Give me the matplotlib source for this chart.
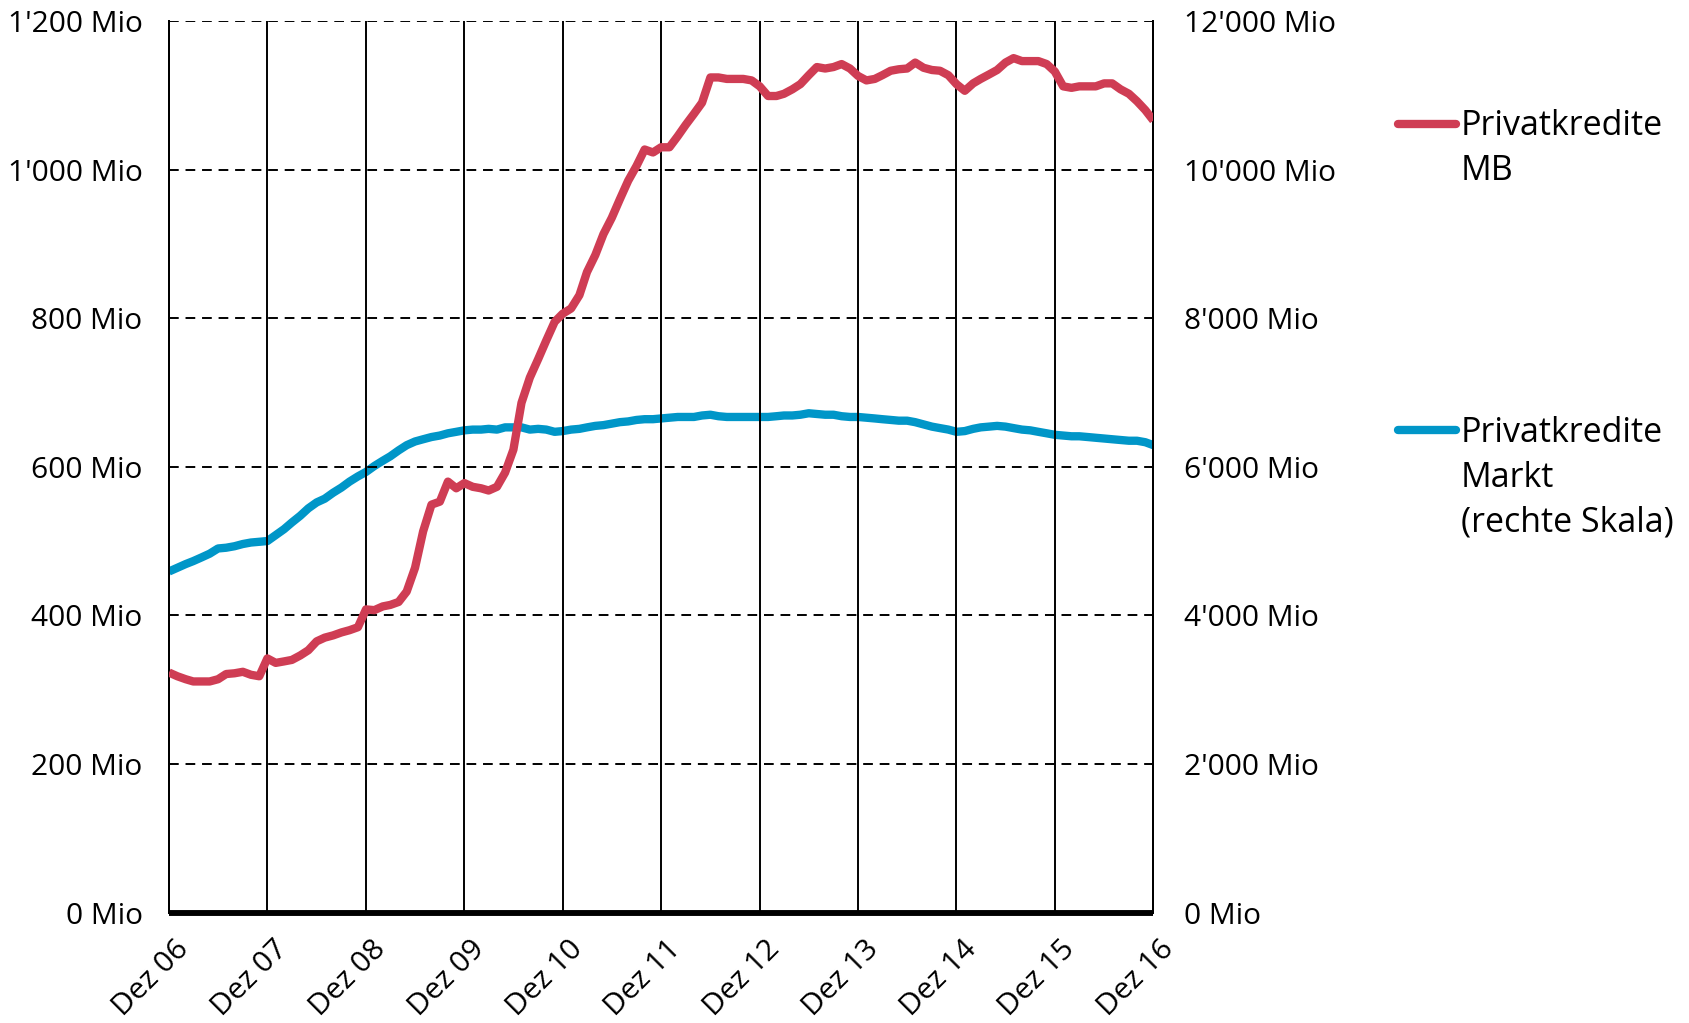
import matplotlib
matplotlib.use("Agg")
import matplotlib.pyplot as plt
from matplotlib.lines import Line2D
from matplotlib.ticker import FuncFormatter, FixedLocator
from matplotlib.transforms import ScaledTranslation
import pandas as pd

plt.rcParams["font.family"] = ["Open Sans", "DejaVu Sans"]

# Monthly series, December 2006 to December 2016
months = pd.date_range("2006-12-01", "2016-12-01", freq="MS")

# Privatkredite MB (left axis, Mio)
kredite_mb = [
    323, 318, 314, 311, 311, 311, 314, 321, 322, 324, 320, 318,
    342, 336, 338, 340, 346, 353, 365, 370, 373, 377, 380, 384,
    408, 407, 412, 414, 418, 432, 464, 513, 549, 553, 580, 571,
    578, 573, 571, 568, 573, 592, 623, 686, 720, 745, 770, 795,
    806, 813, 831, 862, 885, 913, 935, 960, 985, 1005, 1027, 1023,
    1030, 1030, 1045, 1060, 1075, 1090, 1124, 1124, 1122, 1122, 1122, 1120,
    1112, 1099, 1099, 1102, 1108, 1115, 1127, 1138, 1136, 1138, 1142, 1136,
    1126, 1120, 1122, 1127, 1133, 1135, 1136, 1144, 1137, 1134, 1133, 1127,
    1115, 1106, 1116, 1122, 1128, 1134, 1144, 1150, 1146, 1146, 1146, 1142,
    1132, 1112, 1110, 1112, 1112, 1112, 1116, 1116, 1108, 1102, 1092, 1080,
    1066,
]

# Privatkredite Markt (right axis, Mio)
kredite_markt = [
    4590, 4640, 4690, 4730, 4780, 4830, 4900, 4910, 4930, 4960, 4980, 4990,
    5000, 5080, 5160, 5250, 5340, 5440, 5520, 5570, 5650, 5720, 5800, 5870,
    5930, 6010, 6080, 6140, 6220, 6290, 6340, 6370, 6400, 6420, 6450, 6470,
    6490, 6500, 6500, 6510, 6500, 6530, 6530, 6530, 6500, 6510, 6500, 6470,
    6480, 6500, 6510, 6530, 6550, 6560, 6580, 6600, 6610, 6630, 6640, 6640,
    6650, 6660, 6670, 6670, 6670, 6690, 6700, 6680, 6670, 6670, 6670, 6670,
    6670, 6670, 6680, 6690, 6690, 6700, 6720, 6710, 6700, 6700, 6680, 6670,
    6670, 6660, 6650, 6640, 6630, 6620, 6620, 6600, 6570, 6540, 6520, 6500,
    6470, 6480, 6510, 6530, 6540, 6550, 6540, 6520, 6500, 6490, 6470, 6450,
    6430, 6420, 6410, 6410, 6400, 6390, 6380, 6370, 6360, 6350, 6350, 6330,
    6290,
]

tick_years = list(range(2006, 2017))
tick_labels = ["Dez %02d" % (y % 100) for y in tick_years]
left_ticks = [0, 200, 400, 600, 800, 1000, 1200]
right_ticks = [0, 2000, 4000, 6000, 8000, 10000, 12000]

legend_labels = [["Privatkredite", "MB"],
                 ["Privatkredite", "Markt", "(rechte Skala)"]]

RED = "#CF3D54"
BLUE = "#0096C8"
FS = 21.5
FS_X = 21.5
LW = 6.0


def mio(v, _pos=None):
    v = int(round(v))
    s = f"{v:,}".replace(",", "'")
    return f"{s} Mio"


fig = plt.figure(figsize=(16.90, 10.23), dpi=100)
ax = fig.add_axes([0.1, 0.108, 0.5825, 0.8715])
ax2 = ax.twinx()

x0 = pd.Timestamp("2006-12-01")
x1 = pd.Timestamp("2016-12-01")
ax.set_xlim(x0, x1)
ax.set_ylim(0, 1200)
ax2.set_ylim(0, 12000)

# Horizontal dashed grid
for v in left_ticks[1:]:
    ax.axhline(v, color="black", lw=1.4, ls=(0, (5, 3.5)), zorder=1)

# Vertical year lines
tick_dates = [pd.Timestamp(f"{y}-12-01") for y in tick_years]
for d in tick_dates[1:-1]:
    ax.axvline(d, color="black", lw=1.4, zorder=1)

ax2.plot(months, kredite_markt, color=BLUE, lw=LW, solid_capstyle="butt",
         solid_joinstyle="round", zorder=3)
ax.plot(months, kredite_mb, color=RED, lw=LW, solid_capstyle="butt",
        solid_joinstyle="round", zorder=3)
ax.set_zorder(ax2.get_zorder() + 1)
ax.patch.set_visible(False)

for a in (ax, ax2):
    a.spines["top"].set_visible(False)
    a.spines["left"].set_linewidth(1.4)
    a.spines["right"].set_linewidth(1.4)
    a.spines["bottom"].set_linewidth(4)
    a.spines["bottom"].set_capstyle("butt")

ax.yaxis.set_major_locator(FixedLocator(left_ticks))
ax.yaxis.set_major_formatter(FuncFormatter(mio))
ax2.yaxis.set_major_locator(FixedLocator(right_ticks))
ax2.yaxis.set_major_formatter(FuncFormatter(mio))
ax.tick_params(axis="y", length=0, pad=19, labelsize=FS)
ax2.tick_params(axis="y", length=0, pad=22, labelsize=FS)

ax.set_xticks(tick_dates)
ax.set_xticklabels(tick_labels, rotation=45, ha="right", va="top",
                   rotation_mode="anchor", fontsize=FS_X)
ax.tick_params(axis="x", length=0, pad=16)
ax2.tick_params(axis="x", length=0)
shift = ScaledTranslation(4 / 72, 0, fig.dpi_scale_trans)
for lbl in ax.get_xticklabels():
    lbl.set_transform(lbl.get_transform() + shift)

# Legend drawn as line samples with multi-line labels
legend_line_y = [0.8788, 0.5797]
legend_base_y = [0.8680, 0.5684]
line_step = 45 / 1023
for lines, col, ly, by in zip(legend_labels, [RED, BLUE], legend_line_y, legend_base_y):
    fig.add_artist(Line2D([0.8275, 0.8615], [ly, ly], transform=fig.transFigure,
                          color=col, lw=LW, solid_capstyle="round"))
    for i, txt in enumerate(lines):
        fig.text(0.8645, by - i * line_step, txt, fontsize=24.5,
                 va="baseline", ha="left")

fig.savefig("out.png", dpi=100)
